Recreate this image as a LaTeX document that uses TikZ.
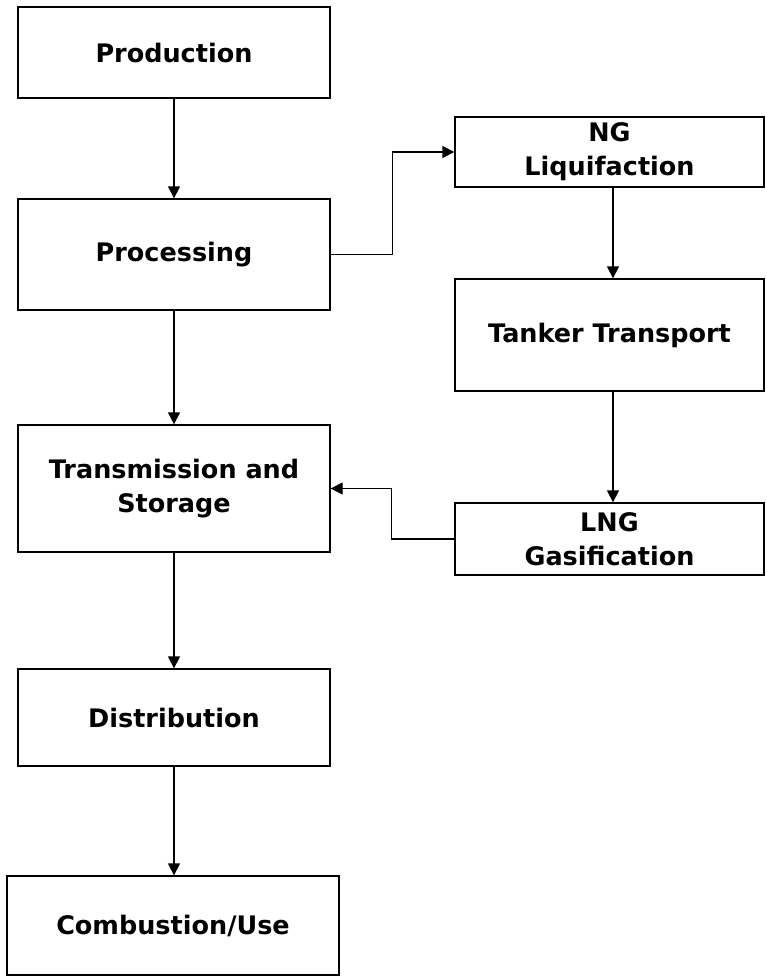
\documentclass[tikz,border=0pt]{standalone}
\usepackage{fontspec}
\setmainfont{DejaVu Sans}
\usetikzlibrary{arrows.meta}
\begin{document}
\begin{tikzpicture}[x=1pt,y=-1pt,
  box/.style={draw=black, line width=1.3pt, rectangle, align=center, inner sep=0pt,
    font=\fontsize{25.5}{34}\selectfont\bfseries},
  arr/.style={draw=black, line width=1.3pt, -{Triangle[width=12pt,length=12pt]}}]
\useasboundingbox (0,0) rectangle (767,977);
\node[box, minimum width=312pt, minimum height=91pt] (prod) at (174,52.5) {Production};
\node[box, minimum width=312pt, minimum height=111pt] (proc) at (174,254.5) {Processing};
\node[box, minimum width=312pt, minimum height=127pt] (trans) at (174,488.5) {Transmission and\\Storage};
\node[box, minimum width=312pt, minimum height=97pt] (dist) at (174,717.5) {Distribution};
\node[box, minimum width=332pt, minimum height=99pt] (comb) at (173,925.5) {Combustion/Use};
\node[box, minimum width=309pt, minimum height=70pt] (ngl) at (609.5,152) {NG\\Liquifaction};
\node[box, minimum width=309pt, minimum height=112pt] (tank) at (609.5,335) {Tanker Transport};
\node[box, minimum width=309pt, minimum height=72pt] (lng) at (609.5,539) {LNG\\Gasification};
\draw[arr] (prod.south) -- (proc.north);
\draw[arr] (proc.south) -- (trans.north);
\draw[arr] (trans.south) -- (dist.north);
\draw[arr] (dist.south) -- (dist.south |- comb.north);
\draw[arr] (proc.east) -- ++(62,0) |- (ngl.west);
\draw[arr] ([xshift=3.5pt]ngl.south) -- ([xshift=3.5pt]tank.north);
\draw[arr] ([xshift=3.5pt]tank.south) -- ([xshift=3.5pt]lng.north);
\draw[arr] (lng.west) -- ++(-63,0) |- (trans.east);
\end{tikzpicture}
\end{document}
